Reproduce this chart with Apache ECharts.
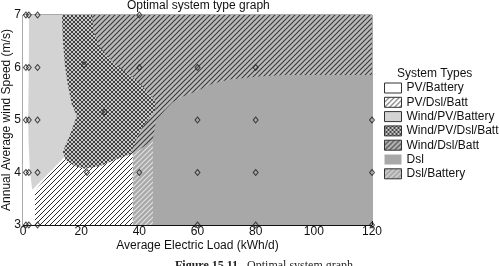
<!DOCTYPE html>
<html lang="en">
<head>
<meta charset="UTF-8">
<title>Optimal system type graph</title>
<style>html,body{margin:0;padding:0;background:#fff;}</style>
</head>
<body>
<div id="main" style="width:499px;height:266px;"></div>
<script src="https://cdn.jsdelivr.net/npm/echarts@6/dist/echarts.min.js"></script>
<script>
// region outlines as [load kWh/d, wind m/s]
var pvBattery = [[0, 3], [0, 7], [120, 7], [120, 3]];
var windDslBatt = [[20, 7], [120, 7], [120, 5.5], [50, 4.4], [38, 4.3], [22, 6]];
var dsl = [[44.6, 3], [44.6, 4.62], [45.8, 5.0], [49, 5.2], [51.4, 5.34], [55, 5.45], [59.6, 5.55],
    [65, 5.69], [71, 5.77], [81, 5.83], [90, 5.857], [120, 5.857], [120, 3]];
var dslBattery = [[37.7, 3], [37.7, 4.34], [44.7, 4.62], [44.7, 3]];
var windPvBattery = [[2.06, 7], [16, 7], [16.5, 6.05], [17.5, 5.67], [19, 5.29], [20.5, 5.08], [19, 4.81],
    [17, 4.58], [15.5, 4.39], [14.4, 4.3], [3.2, 3.67], [2.4, 4.0], [1.9, 4.6], [1.8, 5.1], [2.0, 6.0]];
var pvDslBatt = [[4.1, 3], [4.1, 3.65], [14.4, 4.3], [37.7, 4.38], [37.7, 3]];
var windPvDslBatt = [[13.37, 7], [13.7, 6.52], [14.4, 6.05], [15.4, 5.67], [16.8, 5.29], [18.5, 5.08],
    [16.8, 4.81], [15.1, 4.58], [13.7, 4.39], [14.7, 4.24], [17.8, 4.12], [21.3, 4.07], [26.4, 4.12],
    [31.5, 4.24], [37.0, 4.35], [38.4, 4.56], [40.8, 4.85], [43.5, 5.04], [45.6, 5.19], [45.3, 5.38],
    [42.9, 5.53], [40.1, 5.7], [36.7, 5.86], [30.9, 6.1], [26.4, 6.39], [24.3, 6.68], [23.7, 7]];

// simulated cases (diamond markers)
var cases = [[1, 7], [2, 7], [5, 7], [40, 7],
    [1, 6], [2, 6], [5, 6], [21, 6.05], [40, 6], [60, 6], [80, 6],
    [1, 5], [2, 5], [5, 5], [28, 5.15], [60, 5], [80, 5], [120, 5],
    [1, 4], [2, 4], [5, 4], [22, 4], [40, 4], [60, 4], [80, 4], [120, 4],
    [1, 3], [2, 3], [5, 3], [60, 3], [80, 3], [120, 3]];

var legendOrder = ['PV/Battery', 'PV/Dsl/Batt', 'Wind/PV/Battery', 'Wind/PV/Dsl/Batt',
    'Wind/Dsl/Batt', 'Dsl', 'Dsl/Battery'];

// hatch fill as a repeating canvas pattern
function hatch(bg, fg, size, lw, cross) {
    var c = document.createElement('canvas');
    c.width = c.height = size;
    var g = c.getContext('2d');
    g.fillStyle = bg;
    g.fillRect(0, 0, size, size);
    if (fg) {
        g.strokeStyle = fg;
        g.lineWidth = lw;
        g.beginPath();
        g.moveTo(-1, size + 1); g.lineTo(size + 1, -1);
        g.moveTo(-1, 1); g.lineTo(1, -1);
        g.moveTo(size - 1, size + 1); g.lineTo(size + 1, size - 1);
        if (cross) {
            g.moveTo(-1, -1); g.lineTo(size + 1, size + 1);
            g.moveTo(size - 1, -1); g.lineTo(size + 1, 1);
            g.moveTo(-1, size - 1); g.lineTo(1, size + 1);
        }
        g.stroke();
    }
    return { image: c, repeat: 'repeat' };
}

var fills = {
    'PV/Battery': '#ffffff',
    'PV/Dsl/Batt': hatch('#ffffff', '#2a2a2a', 5, 1, false),
    'Wind/PV/Battery': '#d3d3d3',
    'Wind/PV/Dsl/Batt': hatch('#c8c8c8', '#333333', 4, 0.9, true),
    'Wind/Dsl/Batt': hatch('#bababa', '#3c3c3c', 5, 1.2, false),
    'Dsl': '#a8a8a8',
    'Dsl/Battery': hatch('#a8a8a8', '#e2e2e2', 5, 1.2, false)
};

function region(name, pts) {
    return {
        name: name,
        type: 'custom',
        data: pts,
        itemStyle: { color: fills[name] },
        silent: true,
        renderItem: function (params, api) {
            if (params.dataIndex !== 0) return;
            var p = pts.map(function (d) { return api.coord(d); });
            return {
                type: 'polygon',
                shape: { points: p },
                style: { fill: fills[name], stroke: null }
            };
        }
    };
}

var font = 'Liberation Sans, Arial, Helvetica, sans-serif';
var myChart = echarts.init(document.getElementById('main'));

var option = {
    animation: false,
    textStyle: { fontFamily: font },
    title: [{
        text: 'Optimal system type graph',
        left: 127, top: 0, padding: 0,
        textStyle: { fontSize: 12, fontWeight: 'normal', color: '#111', fontFamily: font }
    }, {
        text: 'System Types',
        left: 397, top: 68, padding: 0,
        textStyle: { fontSize: 12, fontWeight: 'normal', color: '#111', fontFamily: font }
    }],
    grid: {
        left: 23, right: 127, top: 15, bottom: 41,
        containLabel: false, outerBoundsMode: 'none',
        show: true, borderColor: '#555', borderWidth: 1
    },
    legend: {
        data: legendOrder.map(function (n) {
            return n === 'Dsl' ? { name: n, itemStyle: { borderWidth: 0 } } : { name: n };
        }),
        orient: 'vertical',
        left: 384, top: 82, padding: 0,
        itemWidth: 17, itemHeight: 10, itemGap: 2.3,
        icon: 'rect',
        selectedMode: false,
        itemStyle: { borderColor: '#333', borderWidth: 1 },
        textStyle: { fontSize: 12, color: '#111', fontFamily: font, padding: [0, 0, 0, 0] }
    },
    xAxis: {
        type: 'value', min: 0, max: 120, interval: 20,
        name: 'Average Electric Load (kWh/d)', nameLocation: 'middle', nameGap: 15,
        nameMoveOverlap: false,
        nameTextStyle: { fontSize: 12, color: '#111' },
        axisLine: { lineStyle: { color: '#111', width: 1 } },
        axisTick: { inside: true, length: 4, lineStyle: { color: '#111' } },
        minorTick: { show: true, splitNumber: 4, length: 2, lineStyle: { color: '#111' } },
        axisLabel: { fontSize: 12, color: '#111', margin: 1 },
        splitLine: { show: false }
    },
    yAxis: {
        type: 'value', min: 3, max: 7, interval: 1,
        name: 'Annual Average wind Speed (m/s)', nameLocation: 'middle', nameGap: 10,
        nameMoveOverlap: false,
        nameTextStyle: { fontSize: 12, color: '#111' },
        axisLine: { show: true, lineStyle: { color: '#111', width: 1 } },
        axisTick: { show: true, inside: true, length: 4, lineStyle: { color: '#111' } },
        minorTick: { show: true, splitNumber: 2, length: 2, lineStyle: { color: '#111' } },
        axisLabel: { fontSize: 12, color: '#111', margin: 2 },
        splitLine: { show: false }
    },
    series: [
        region('PV/Battery', pvBattery),
        region('Wind/Dsl/Batt', windDslBatt),
        region('Dsl', dsl),
        region('Dsl/Battery', dslBattery),
        region('Wind/PV/Battery', windPvBattery),
        region('PV/Dsl/Batt', pvDslBatt),
        region('Wind/PV/Dsl/Batt', windPvDslBatt),
        {
            name: 'cases',
            type: 'scatter',
            data: cases,
            symbol: 'diamond',
            symbolSize: [5, 6],
            clip: false,
            silent: true,
            z: 5,
            itemStyle: { color: 'rgba(0,0,0,0)', borderColor: '#222', borderWidth: 1 }
        }
    ],
    graphic: [{
        type: 'text',
        left: 175, top: 260,
        style: {
            text: '{b|Figure 15.11}   Optimal system graph',
            fontFamily: 'Liberation Serif, DejaVu Serif, serif',
            fontSize: 12,
            fill: '#222',
            rich: { b: { fontWeight: 'bold', fontFamily: 'Liberation Serif, DejaVu Serif, serif', fontSize: 12 } }
        }
    }]
};

myChart.setOption(option);
</script>
</body>
</html>
